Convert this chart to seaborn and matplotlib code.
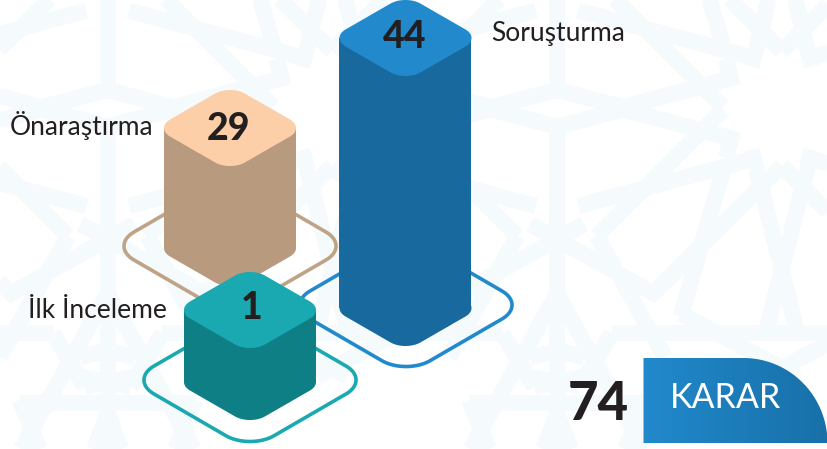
import numpy as np
import pandas as pd
import matplotlib
matplotlib.use("Agg")
import matplotlib.pyplot as plt
from matplotlib.collections import LineCollection
from matplotlib.patches import Polygon, PathPatch
from matplotlib.path import Path
from matplotlib.colors import to_rgb
import seaborn as sns

# ---- data
categories = ["İlk İnceleme", "Önaraştırma", "Soruşturma"]
values = [1, 29, 44]
drawn_heights = [72, 120, 270]      # heights as the infographic draws them, not to scale
total_label = "KARAR"
total_value = 74

# ---- layout and style
centers = [250, 230, 405.5]
top_y = [310, 128, 38]
ring_y = [380, 246, 305]
ring_x = [250, 230, 406]
tops = ["#1aa9b0", "#fdcfa9", "#2189cc"]
bodies = ["#0e7f85", "#b89a7e", "#18699d"]
rings = ["#1aa9b0", "#bfa387", "#2189cc"]
orders = [30, 10, 20]
label_xy = [(167, 311, "right"), (153, 125, "right"), (491, 33, "left")]
value_xy = [(252, 308), (228.5, 129), (405, 37)]
BAR_W, TOP_H = 132, 76
RING_W, RING_H = 212, 123
TEXT = "#231f20"
sns.set_style("white")
plt.rcParams["font.family"] = ["Lato", "DejaVu Sans"]

fig = plt.figure(figsize=(8.28, 4.49), dpi=100)
ax = fig.add_axes([0, 0, 1, 1])


def iso_square(cx, cy, w, h, r=0.4, n=24):
    """Rounded square in isometric view, fitted to a w x h box."""
    c = 1 - r
    t = np.linspace(0, np.pi / 2, n)
    u, v = [], []
    for k, (sx, sy) in enumerate([(1, 1), (-1, 1), (-1, -1), (1, -1)]):
        a = t + k * np.pi / 2
        u.extend(sx * c + r * np.cos(a))
        v.extend(sy * c + r * np.sin(a))
    u, v = np.array(u), np.array(v)
    p, q = u - v, u + v
    return np.c_[cx + p / np.ptp(p) * w, cy + q / np.ptp(q) * h]


# ---- background lattice (decoration, traced in one mirror cell)
cell = [
    [(81, 380), (81, 1347)],
    [(81, 380), (280, 328)],
    [(280, 328), (603, 415), (588, 472)],
    [(578, 330), (200, 708)],
    [(200, 708), (405, 1072)],
    [(0, 672), (370, 880), (755, 497)],
    [(145, 618), (665, 478)],
    [(665, 450), (803, 1000)],
    [(452, 950), (580, 510)],
    [(452, 940), (800, 1130)],
    [(245, 1000), (870, 1000)],
    [(245, 1000), (150, 1160)],
    [(81, 880), (340, 1347)],
    [(0, 1072), (105, 1045)],
    [(0, 1130), (150, 1160)],
    [(105, 1210), (345, 1210)],
    [(345, 1200), (285, 1347)],
    [(81, 1240), (40, 1347)],
]
MX, PERIOD, MY = 557.0, 449.4, 108.3
segs = []
for line in cell:
    pts = np.array(line, float) / 3 + [530, 0]
    for shift in (-2, -1, 0, 1):
        for mirror_x in (False, True):
            for mirror_y in (False, True):
                q = pts.copy()
                if mirror_x:
                    q[:, 0] = 2 * MX - q[:, 0]
                q[:, 0] += shift * PERIOD
                if mirror_y:
                    q[:, 1] = 2 * MY - q[:, 1]
                segs.append(q)
ax.add_collection(LineCollection(segs, colors="#f5fafc", linewidths=11.5,
                                 capstyle="butt", joinstyle="miter", zorder=1))

# ---- bars through seaborn
df = pd.DataFrame({"category": categories, "center": centers, "height": drawn_heights})
spacing = np.min(np.diff(np.sort(centers)))
sns.barplot(data=df, x="center", y="height", hue="category", native_scale=True,
            palette=dict(zip(categories, bodies)), width=BAR_W / spacing,
            dodge=False, legend=False, ax=ax, linewidth=0, saturation=1)

bars = [p for p in ax.patches if p.get_height() > 0]
for i, cat in enumerate(categories):
    bar = min(bars, key=lambda p: abs(p.get_x() + p.get_width() / 2 - centers[i]))
    bar.set_y(top_y[i])
    bar.set_zorder(orders[i])
    base = top_y[i] + drawn_heights[i]
    ax.add_patch(Polygon(iso_square(ring_x[i], ring_y[i], RING_W, RING_H), closed=True,
                         fill=False, ec=rings[i], lw=2.6, zorder=2))
    ax.add_patch(Polygon(iso_square(centers[i], base, BAR_W, TOP_H), closed=True,
                         fc=bodies[i], ec="none", zorder=orders[i]))
    ax.add_patch(Polygon(iso_square(centers[i], top_y[i], BAR_W, TOP_H), closed=True,
                         fc=tops[i], ec="none", zorder=orders[i] + 1))
    ax.text(value_xy[i][0], value_xy[i][1], str(values[i]), ha="center", va="center",
            fontsize=27, fontweight="black", color=TEXT, zorder=40)
    lx, ly, lha = label_xy[i]
    ax.text(lx, ly, cat, ha=lha, va="center", fontsize=19, color=TEXT, zorder=40)

# ---- decision tag
X0, X1, Y0, Y1 = 643.5, 827.5, 358, 443
rx, ry = 84, 85
ang = np.linspace(-np.pi / 2, 0, 40)
outline = np.vstack([[(X0, Y1), (X0, Y0)],
                     np.c_[X1 - rx + rx * np.cos(ang), Y1 + ry * np.sin(ang)],
                     [(X0, Y1)]])
clip = PathPatch(Path(outline), fc="none", ec="none", transform=ax.transData)
ax.add_patch(clip)
c0, c1 = np.array(to_rgb("#2189cc")), np.array(to_rgb("#1870a8"))
grad = (c0 + (c1 - c0) * np.linspace(0, 1, 256)[:, None])[None, :, :]
im = ax.imshow(grad, extent=(X0, X1, Y1, Y0), aspect="auto", zorder=5, interpolation="bilinear")
im.set_clip_path(clip)
ax.text(726, 398, total_label, ha="center", va="center", fontsize=24.5,
        color="white", fontweight="normal", zorder=6)
ax.text(598, 404, str(total_value), ha="center", va="center", fontsize=38,
        fontweight="black", color=TEXT, zorder=6)

ax.set_xlim(0, 828)
ax.set_ylim(449, 0)
ax.axis("off")
fig.savefig("out.png", dpi=100, facecolor="white")
